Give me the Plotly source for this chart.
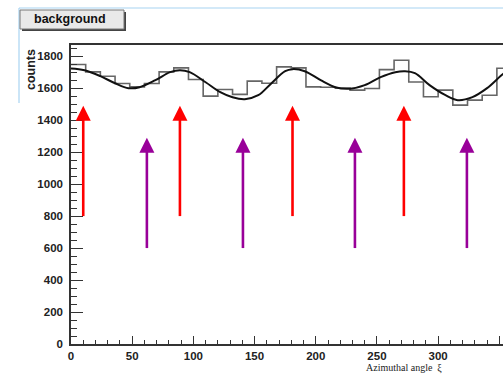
import plotly.graph_objects as go

# Histogram of the azimuthal angle: 30 bins of 12 degrees
bin_width = 12
bin_edges = [i * bin_width for i in range(31)]
bin_counts = [1748, 1702, 1675, 1629, 1608, 1629, 1702, 1727, 1654, 1550,
              1592, 1561, 1644, 1631, 1733, 1727, 1608, 1606, 1600, 1588,
              1598, 1716, 1775, 1639, 1546, 1588, 1494, 1525, 1556, 1725]

# Fitted modulation curve (angle in degrees, counts)
fit_angle = [0, 11, 24, 36, 47, 56, 69, 81, 89, 97, 110, 122, 132, 142, 153,
             163, 175, 181, 191, 204, 216, 228, 240, 253, 265, 273, 281, 293,
             306, 316, 328, 340, 353, 360]
fit_counts = [1723, 1712, 1675, 1631, 1600, 1606, 1650, 1700, 1712, 1700, 1637,
              1575, 1543, 1531, 1556, 1625, 1706, 1719, 1706, 1650, 1606, 1597,
              1619, 1669, 1700, 1706, 1694, 1619, 1556, 1525, 1544, 1600, 1688,
              1720]

# Arrow markers: angle, base and tip (counts)
red_angles = [10, 89, 181, 272]
red_base, red_tip = 800, 1490
purple_angles = [62, 140.5, 232, 323.5]
purple_base, purple_tip = 600, 1290

x_range = [0, 353]
y_range = [0, 1870]

W, H = 503, 374
ml, mr, mt, mb = 71, 0, 45, 30
plot_w = W - ml - mr
plot_h = H - mt - mb
px_per_x = plot_w / (x_range[1] - x_range[0])
px_per_y = plot_h / (y_range[1] - y_range[0])

fig = go.Figure()

# step histogram
step_x = bin_edges
step_y = bin_counts + [bin_counts[-1]]
fig.add_trace(go.Scatter(x=step_x, y=step_y, mode="lines",
                         line=dict(shape="hv", color="#666666", width=1.6),
                         hoverinfo="skip"))

# fit curve
fig.add_trace(go.Scatter(x=fit_angle, y=fit_counts, mode="lines",
                         line=dict(shape="spline", smoothing=1.0, color="#111111", width=2),
                         hoverinfo="skip"))

shapes = []


def add_arrow(ang, base, tip, color):
    head_half_w = 7.5 / px_per_x
    head_len = 15 / px_per_y
    shapes.append(dict(type="line", xref="x", yref="y", x0=ang, x1=ang,
                       y0=base, y1=tip - head_len * 0.5,
                       line=dict(color=color, width=2.6)))
    path = (f"M {ang - head_half_w},{tip - head_len} L {ang + head_half_w},{tip - head_len} "
            f"L {ang},{tip} Z")
    shapes.append(dict(type="path", xref="x", yref="y", path=path,
                       fillcolor=color, line=dict(color=color, width=0)))


for a in red_angles:
    add_arrow(a, red_base, red_tip, "#ff0000")
for a in purple_angles:
    add_arrow(a, purple_base, purple_tip, "#990099")


def px_to_paper_x(px):
    return (px - ml) / plot_w


def px_to_paper_y(py):
    return (H - mb - py) / plot_h


# light blue pad border
shapes.append(dict(type="line", xref="paper", yref="paper",
                   x0=px_to_paper_x(19), x1=px_to_paper_x(503),
                   y0=px_to_paper_y(8), y1=px_to_paper_y(8),
                   line=dict(color="#a8d4f2", width=1.2)))
shapes.append(dict(type="line", xref="paper", yref="paper",
                   x0=px_to_paper_x(19), x1=px_to_paper_x(19),
                   y0=px_to_paper_y(8), y1=px_to_paper_y(103),
                   line=dict(color="#a8d4f2", width=1.2)))

# title box with shadow
shapes.append(dict(type="rect", xref="paper", yref="paper",
                   x0=px_to_paper_x(22), x1=px_to_paper_x(126),
                   y0=px_to_paper_y(12), y1=px_to_paper_y(31),
                   fillcolor="#444444", line=dict(width=0)))
shapes.append(dict(type="rect", xref="paper", yref="paper",
                   x0=px_to_paper_x(20), x1=px_to_paper_x(124),
                   y0=px_to_paper_y(10), y1=px_to_paper_y(29),
                   fillcolor="#e9e9e9", line=dict(color="#777777", width=1)))

annotations = [
    dict(text="<b>background</b>", xref="paper", yref="paper",
         x=px_to_paper_x(70), y=px_to_paper_y(19.5), showarrow=False,
         xanchor="center", yanchor="middle",
         font=dict(family="Liberation Sans", size=12.5, color="#111111")),
    dict(text="<b>counts</b>", xref="paper", yref="paper",
         x=px_to_paper_x(31), y=px_to_paper_y(70), showarrow=False,
         textangle=-90, xanchor="center", yanchor="middle",
         font=dict(family="Liberation Sans", size=12.5, color="#222222")),
    dict(text="Azimuthal angle&nbsp;&nbsp;ξ", xref="paper", yref="paper",
         x=px_to_paper_x(404), y=px_to_paper_y(368), showarrow=False,
         xanchor="center", yanchor="middle",
         font=dict(family="Liberation Serif", size=10, color="#222222")),
]

tick_font = dict(family="Liberation Sans", size=11.5, color="#222222", weight="bold")

fig.update_layout(
    width=W, height=H,
    margin=dict(l=ml, r=mr, t=mt, b=mb, pad=0),
    paper_bgcolor="white", plot_bgcolor="white",
    showlegend=False,
    shapes=shapes,
    annotations=annotations,
    xaxis=dict(range=x_range, showline=True, linecolor="#333333", linewidth=1.5,
               mirror=True, ticks="inside", ticklen=8, tickwidth=1.3,
               tickcolor="#333333", tick0=0, dtick=50,
               minor=dict(ticks="inside", ticklen=4, dtick=10, tickcolor="#333333",
                          tickwidth=1.1),
               showgrid=False, zeroline=False, tickfont=tick_font,
               automargin=False, fixedrange=True),
    yaxis=dict(range=y_range, showline=True, linecolor="#333333", linewidth=1.5,
               mirror=False, ticks="inside", ticklen=12, tickwidth=1.3,
               tickcolor="#333333", tick0=0, dtick=200,
               minor=dict(ticks="inside", ticklen=6, dtick=50, tickcolor="#333333",
                          tickwidth=1.1),
               showgrid=False, zeroline=False, tickfont=tick_font,
               ticklabelstandoff=4, automargin=False, fixedrange=True),
)

fig.write_html("out.html")
